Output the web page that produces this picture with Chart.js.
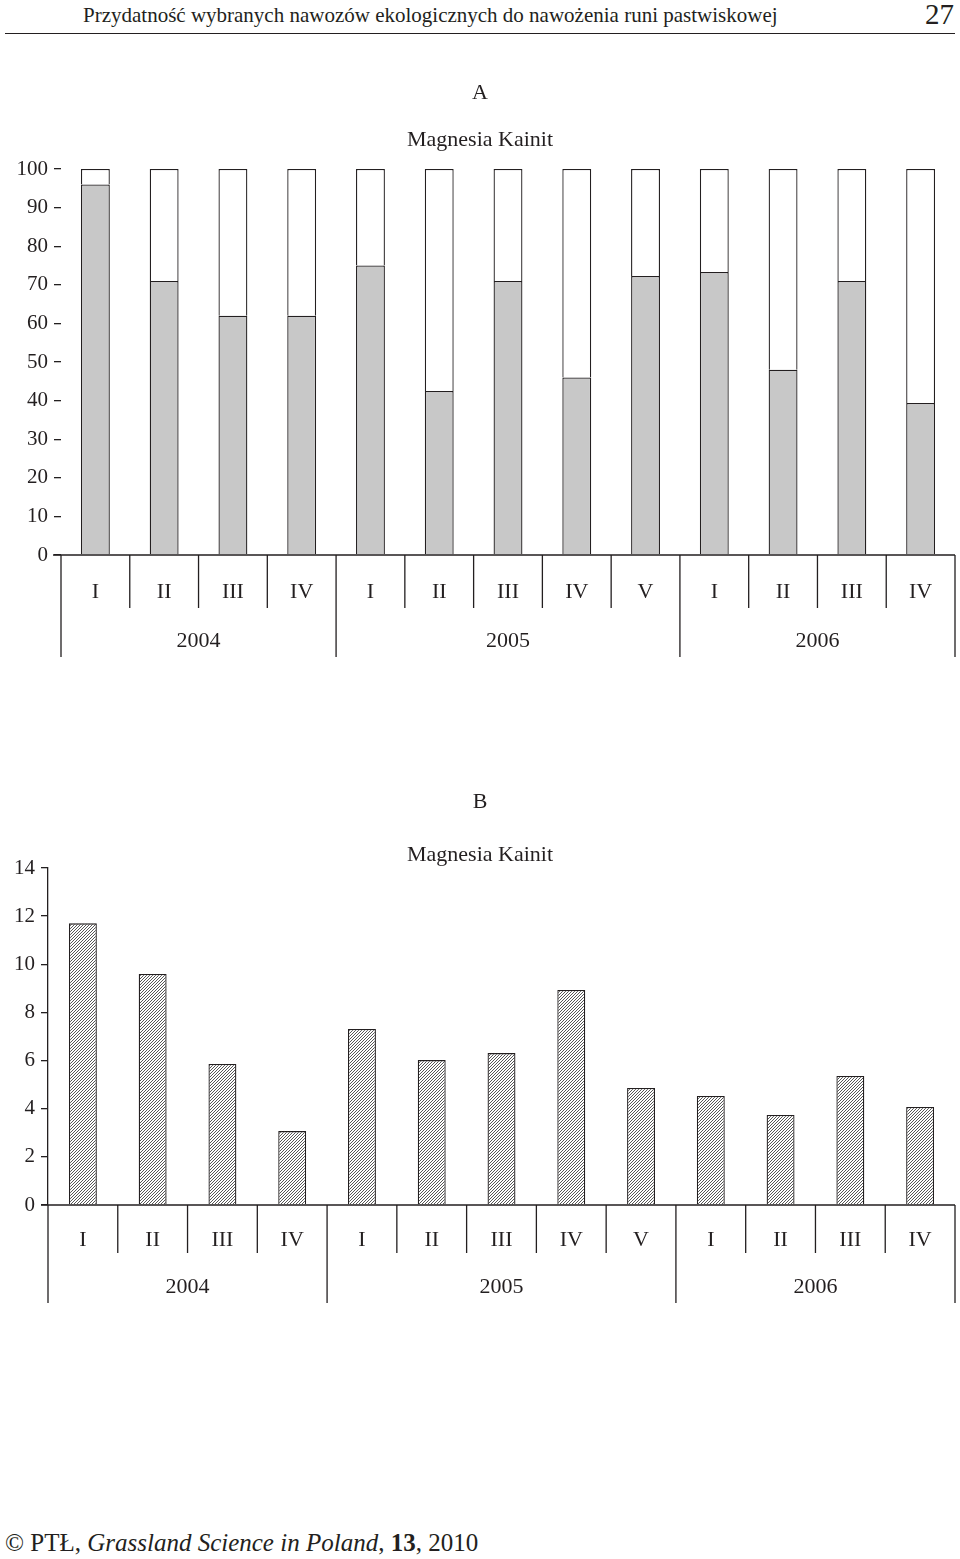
<!DOCTYPE html>
<html>
<head>
<meta charset="utf-8">
<script src="https://cdn.jsdelivr.net/npm/chart.js@4"></script>
<style>
  body { margin: 0; width: 960px; height: 1559px; position: relative; background: #fff; font-family: "Liberation Serif", serif; color: #231f20; }
  #head { position: absolute; left: 83px; top: 3px; font-size: 21px; }
  #page { position: absolute; right: 6px; top: -2px; font-size: 29px; }
  #rule { position: absolute; left: 5px; right: 5px; top: 33px; border-top: 1px solid #231f20; }
  #foot { position: absolute; left: 5px; top: 1529px; font-size: 25px; }
  .cv { position: absolute; left: 0; }
</style>
</head>
<body>
<div id="head">Przydatność wybranych nawozów ekologicznych do nawożenia runi pastwiskowej</div>
<div id="page">27</div>
<div id="rule"></div>
<div class="cv" style="top:70px;width:960px;height:600px"><canvas id="chartA"></canvas></div>
<div class="cv" style="top:780px;width:960px;height:540px"><canvas id="chartB"></canvas></div>
<div id="foot">© PTŁ, <i>Grassland Science in Poland</i>, <b>13</b>, 2010</div>
<script>
// categories
const quarters = ["I", "II", "III", "IV", "I", "II", "III", "IV", "V", "I", "II", "III", "IV"];
const years = ["2004", "2005", "2006"];
const yearSizes = [4, 5, 4];

// A: share (%) - grey part
const shareA = [96, 71, 62, 62, 75, 42.5, 71, 46, 72.3, 73.3, 48, 71, 39.4];
const restA = shareA.map(v => 100 - v);
// B: values
const valuesB = [11.7, 9.6, 5.86, 3.07, 7.31, 6.02, 6.31, 8.93, 4.86, 4.53, 3.74, 5.36, 4.07];

const ink = "#231f20";
const serif = "'Liberation Serif', serif";

function hatch() {
  const c = document.createElement("canvas");
  c.width = 3; c.height = 3;
  const g = c.getContext("2d");
  g.fillStyle = "#fff"; g.fillRect(0, 0, 3, 3);
  g.strokeStyle = "#444"; g.lineWidth = 0.9;
  g.beginPath();
  g.moveTo(0, 3); g.lineTo(3, 0);
  g.moveTo(-1, 1); g.lineTo(1, -1);
  g.moveTo(2, 4); g.lineTo(4, 2);
  g.stroke();
  return g.createPattern(c, "repeat");
}

// draws titles, baseline, separators and category/year labels
function groupPlugin(cfg) {
  return {
    id: "groups",
    afterDraw(chart) {
      const ctx = chart.ctx, x = chart.scales.x, a = chart.chartArea;
      const step = (x.right - x.left) / quarters.length;
      ctx.save();
      ctx.strokeStyle = ink; ctx.fillStyle = ink; ctx.lineWidth = 1.3;
      ctx.beginPath();
      ctx.moveTo(cfg.axisFrom, a.bottom); ctx.lineTo(x.right, a.bottom);
      let idx = 0; const bounds = [0];
      yearSizes.forEach(n => { idx += n; bounds.push(idx); });
      for (let i = 0; i <= quarters.length; i++) {
        const px = x.left + i * step;
        ctx.moveTo(px, a.bottom);
        ctx.lineTo(px, a.bottom + (bounds.includes(i) ? cfg.longLen : cfg.shortLen));
      }
      ctx.stroke();
      ctx.font = "22px " + serif;
      ctx.textAlign = "center"; ctx.textBaseline = "middle";
      quarters.forEach((q, i) => ctx.fillText(q, x.getPixelForValue(i), a.bottom + cfg.qY));
      years.forEach((y, i) => {
        const mid = x.left + (bounds[i] + bounds[i + 1]) / 2 * step;
        ctx.fillText(y, mid, a.bottom + cfg.yY);
      });
      ctx.fillText(cfg.letter, 480, cfg.letterY);
      ctx.fillText("Magnesia Kainit", 480, cfg.titleY);
      ctx.restore();
    }
  };
}

function yAxis(max, step, left, border) {
  return {
    min: 0, max: max,
    ticks: { stepSize: step, color: ink, font: { family: serif, size: 21 }, padding: 6 },
    grid: { drawOnChartArea: false, drawTicks: true, tickLength: 7, color: ink, lineWidth: 1.3 },
    border: { display: border, color: ink, width: 1.3 },
    afterFit(s) { s.width = left; }
  };
}

new Chart(document.getElementById("chartA"), {
  type: "bar",
  data: {
    labels: quarters,
    datasets: [
      { data: shareA, backgroundColor: "#c8c8c8", borderColor: ink, borderWidth: 1.3, barPercentage: 0.42, categoryPercentage: 1 },
      { data: restA, backgroundColor: "#fff", borderColor: ink, borderWidth: 1.3, barPercentage: 0.42, categoryPercentage: 1 }
    ]
  },
  options: {
    responsive: true, maintainAspectRatio: false, animation: false,
    layout: { padding: { top: 99, bottom: 115, right: 5, left: 0 } },
    plugins: { legend: { display: false }, tooltip: { enabled: false } },
    scales: {
      x: { stacked: true, display: false },
      y: Object.assign(yAxis(100, 10, 61, false), { stacked: true })
    }
  },
  plugins: [groupPlugin({ axisFrom: 53, shortLen: 53, longLen: 102, qY: 37, yY: 86, letter: "A", letterY: 23, titleY: 70 })]
});

new Chart(document.getElementById("chartB"), {
  type: "bar",
  data: {
    labels: quarters,
    datasets: [
      { data: valuesB, backgroundColor: hatch(), borderColor: ink, borderWidth: 1.3, barPercentage: 0.4, categoryPercentage: 1 }
    ]
  },
  options: {
    responsive: true, maintainAspectRatio: false, animation: false,
    layout: { padding: { top: 88, bottom: 115, right: 5, left: 0 } },
    plugins: { legend: { display: false }, tooltip: { enabled: false } },
    scales: {
      x: { display: false },
      y: yAxis(14, 2, 48, true)
    }
  },
  plugins: [groupPlugin({ axisFrom: 41, shortLen: 48, longLen: 98, qY: 35, yY: 82, letter: "B", letterY: 22, titleY: 75 })]
});
</script>
</body>
</html>
